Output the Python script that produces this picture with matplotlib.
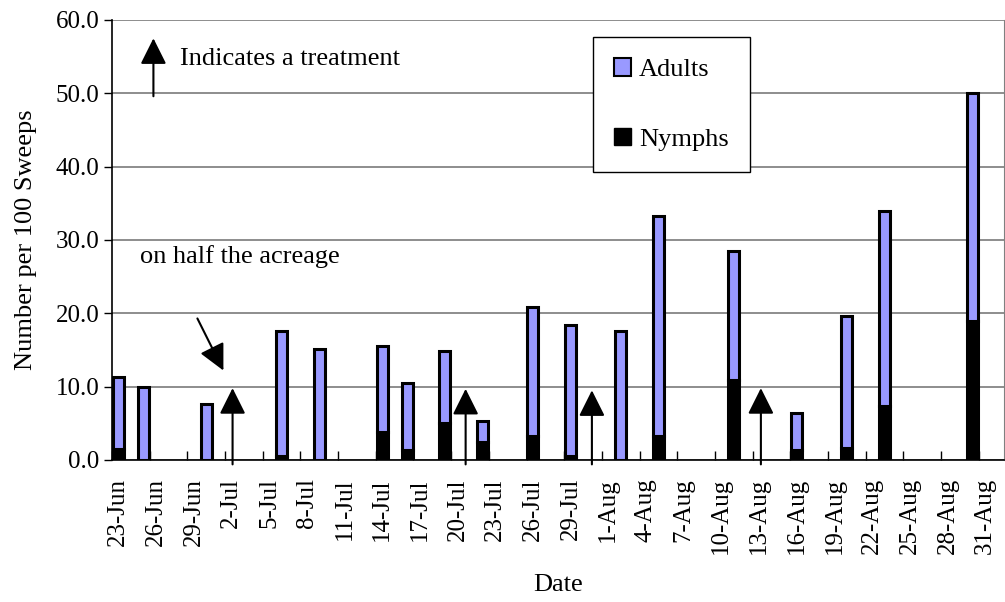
import numpy as np
import pandas as pd
import matplotlib
matplotlib.use("Agg")
import matplotlib.pyplot as plt
from matplotlib.patches import Patch

plt.rcParams["font.family"] = ["Liberation Serif", "DejaVu Serif"]

# Sweep net counts per sampling date.
dates = ["2003-06-23", "2003-06-25", "2003-06-30", "2003-07-06", "2003-07-09",
         "2003-07-14", "2003-07-16", "2003-07-19", "2003-07-22", "2003-07-26",
         "2003-07-29", "2003-08-02", "2003-08-05", "2003-08-11", "2003-08-16",
         "2003-08-20", "2003-08-23", "2003-08-30"]
nymphs = [1.5, 0.0, 0.0, 0.5, 0.0, 3.8, 1.4, 5.0, 2.5, 3.3,
          0.5, 0.0, 3.3, 10.9, 1.4, 1.7, 7.4, 19.0]
adults = [9.8, 10.0, 7.6, 17.1, 15.1, 11.8, 9.1, 9.8, 2.8, 17.6,
          17.9, 17.6, 30.0, 17.6, 5.0, 18.0, 26.6, 31.0]

# Treatments (days after the first sample).
treat_days = [9.1, 27.65, 37.7, 51.15]

start = pd.Timestamp("2003-06-23")
end = pd.Timestamp("2003-08-31")
x = np.array([(pd.Timestamp(d) - start).days for d in dates])
nymphs = np.array(nymphs)
adults = np.array(adults)

fig = plt.figure(figsize=(10.05, 6.02), dpi=100)
ax = fig.add_axes([0.1114, 0.2359, 0.8876, 0.7309])

ax.bar(x, nymphs, width=0.88, color="black", edgecolor="black", linewidth=2.2, zorder=3)
ax.bar(x, adults, width=0.88, bottom=nymphs, color="#9999FF", edgecolor="black",
       linewidth=2.2, zorder=3)

ax.set_xlim(-0.5, (end - start).days + 1.5)
ax.set_ylim(0, 60)
ax.set_yticks(np.arange(0, 61, 10))
ax.set_yticklabels([f"{v:.1f}" for v in np.arange(0, 61, 10)], fontsize=18)
ax.yaxis.grid(True, color="#7a7a7a", linewidth=1.2)
ax.set_axisbelow(True)

# tick marks sit on day boundaries, labels on the day itself
n_days = (end - start).days
label_days = np.arange(0, n_days + 1, 3)
ax.set_xticks(label_days - 0.5)
ax.set_xticklabels([])
ax.set_xticks(label_days, minor=True)
lab = [start + pd.Timedelta(days=int(d)) for d in label_days]
ax.set_xticklabels([f"{d.day}-{d.strftime('%b')}" for d in lab], minor=True,
                   rotation=90, fontsize=18)
ax.tick_params(axis="x", which="major", direction="in", length=6.5, width=1, color="black")
ax.tick_params(axis="x", which="minor", length=0, pad=13)
ax.tick_params(axis="y", direction="out", length=6, width=1, pad=3)

ax.spines["top"].set_visible(False)
ax.spines["right"].set_color("#808080")
ax.spines["left"].set_linewidth(1.2)
ax.spines["bottom"].set_linewidth(1.2)

ax.set_xlabel("Date", fontsize=19)
ax.xaxis.set_label_coords(0.5, -0.259)
ax.set_ylabel("Number per 100 Sweeps", fontsize=19)
ax.yaxis.set_label_coords(-0.084, 0.5)

head = dict(arrowstyle="-|>,head_length=0.8,head_width=0.4", mutation_scale=20,
            color="black", lw=1.5, shrinkA=0, shrinkB=0)
for d, tip in zip(treat_days, [9.8, 9.7, 9.5, 9.8]):
    ax.annotate("", xy=(d, tip), xytext=(d, -0.6), arrowprops=head,
                annotation_clip=False, zorder=4)

# key for the treatment arrows
ax.annotate("", xy=(2.8, 57.5), xytext=(2.8, 49.6), arrowprops=head, zorder=4)
ax.text(4.9, 54.7, "Indicates a treatment", fontsize=19, va="center", ha="left")
ax.text(1.74, 27.8, "on half the acreage", fontsize=19, va="center", ha="left")
ax.annotate("", xy=(8.37, 12.2), xytext=(6.3, 19.3), arrowprops=head, zorder=4)

handles = [Patch(facecolor="#9999FF", edgecolor="black", linewidth=1.5, label="Adults"),
           Patch(facecolor="black", edgecolor="black", label="Nymphs")]
leg = ax.legend(handles=handles, loc="upper left", bbox_to_anchor=(0.539, 0.961),
                borderaxespad=0, fontsize=19, frameon=True, fancybox=False,
                edgecolor="black", framealpha=1, handlelength=0.65, handleheight=0.65,
                handletextpad=0.3, labelspacing=1.75, borderpad=0.8)
leg.get_frame().set_linewidth(1)

fig.savefig("out.png", dpi=100)
